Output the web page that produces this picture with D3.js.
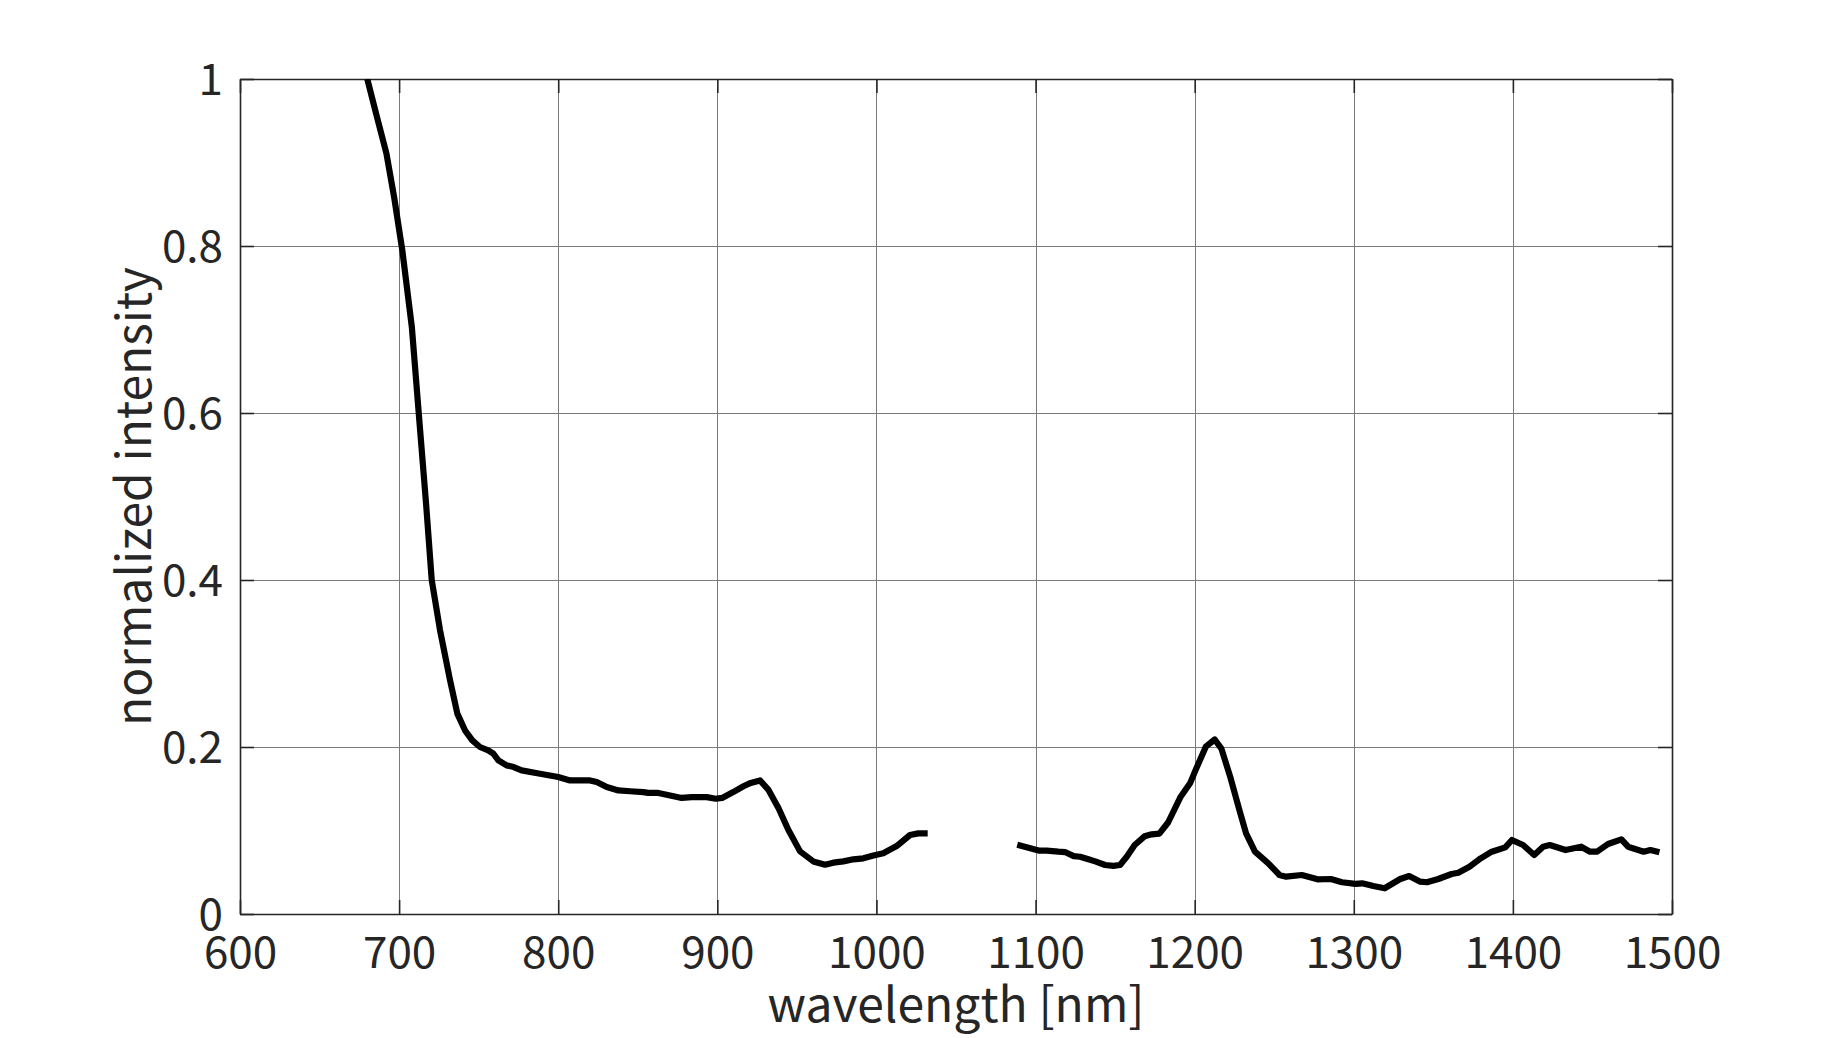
<!DOCTYPE html>
<html>
<head>
<meta charset="utf-8">
<script src="https://cdn.jsdelivr.net/npm/d3@7"></script>
<style>
  html, body { margin: 0; padding: 0; background: #ffffff; }
  svg { display: block; }
</style>
</head>
<body>
<svg id="chart" width="1846" height="1038"></svg>
<script>
// ---- data ----
const xTicks = [600, 700, 800, 900, 1000, 1100, 1200, 1300, 1400, 1500];
const yTicks = [0, 0.2, 0.4, 0.6, 0.8, 1];
const yTickLabels = ["0", "0.2", "0.4", "0.6", "0.8", "1"];

const seg1Wavelength = [680, 686, 692, 697, 702, 708, 713, 717, 720.5, 725.7, 732, 736.6, 741.4, 746, 750.8, 756, 759.2, 762.4, 767.6, 772, 777, 788.6, 800, 807.4, 820, 824.2, 830.5, 837.8, 845.1, 853.5, 856.6, 862.9, 870.3, 877.6, 883.9, 893.3, 899, 903, 910, 916.4, 921, 926.8, 932, 938.4, 944.6, 952, 960.3, 967.7, 972.9, 979.2, 985.5, 991.8, 998.1, 1004.3, 1012.7, 1021.1, 1026.3, 1032.2];
const seg1Intensity = [1.000, 0.955, 0.911, 0.857, 0.795, 0.703, 0.584, 0.490, 0.400, 0.340, 0.280, 0.240, 0.220, 0.208, 0.200, 0.196, 0.192, 0.184, 0.178, 0.176, 0.172, 0.168, 0.164, 0.160, 0.160, 0.158, 0.152, 0.148, 0.147, 0.146, 0.145, 0.145, 0.142, 0.139, 0.140, 0.140, 0.138, 0.139, 0.146, 0.153, 0.157, 0.160, 0.149, 0.127, 0.101, 0.075, 0.063, 0.059, 0.0615, 0.063, 0.0655, 0.0667, 0.070, 0.0727, 0.0814, 0.0946, 0.0966, 0.0966];

const seg2Wavelength = [1088.5, 1095.5, 1102.5, 1107, 1114.3, 1118.5, 1124, 1128, 1133.2, 1137.5, 1143.7, 1148.9, 1153.1, 1157.3, 1162.3, 1168.5, 1173, 1177.8, 1183.3, 1191.2, 1197.1, 1200.5, 1207, 1212.6, 1216.8, 1222.4, 1228.1, 1232.3, 1237.9, 1246.3, 1253.3, 1257.5, 1267.3, 1277.2, 1285.6, 1292.6, 1301.1, 1305.3, 1312.3, 1319.4, 1329.2, 1334.8, 1341.8, 1346, 1353.1, 1361.5, 1365.7, 1372.7, 1379.8, 1386.7, 1395.2, 1399.4, 1406.4, 1413.4, 1419, 1423.2, 1433.1, 1442.9, 1448.5, 1452.8, 1459.8, 1468.2, 1472.4, 1482.2, 1486.4, 1492.1];
const seg2Intensity = [0.0830, 0.0794, 0.0758, 0.0758, 0.0746, 0.0742, 0.0693, 0.0686, 0.0655, 0.0630, 0.0587, 0.0576, 0.0587, 0.0686, 0.0826, 0.0930, 0.0954, 0.0962, 0.1096, 0.1405, 0.1565, 0.1720, 0.2004, 0.2090, 0.1980, 0.1640, 0.1245, 0.0966, 0.0746, 0.0607, 0.0467, 0.0447, 0.0467, 0.0415, 0.0419, 0.0380, 0.0360, 0.0367, 0.0335, 0.0308, 0.0419, 0.0455, 0.0387, 0.0380, 0.0419, 0.0479, 0.0495, 0.0567, 0.0667, 0.0746, 0.0798, 0.0886, 0.0826, 0.0707, 0.0806, 0.0826, 0.0766, 0.0806, 0.0746, 0.0746, 0.0838, 0.0894, 0.0806, 0.0746, 0.0766, 0.0739];

const xLabel = "wavelength [nm]";
const yLabel = "normalized intensity";

// ---- layout ----
const plotLeft = 240, plotRight = 1672, plotTop = 79, plotBottom = 914;
const textColor = "#262626";
const tickFont = "'Noto Sans CJK JP', 'Noto Sans', sans-serif";

const svg = d3.select("#chart");
const x = d3.scaleLinear().domain([600, 1500]).range([plotLeft, plotRight]);
const y = d3.scaleLinear().domain([0, 1]).range([plotBottom, plotTop]);

// clip
svg.append("defs").append("clipPath").attr("id", "plotclip")
  .append("rect").attr("x", plotLeft).attr("y", plotTop)
  .attr("width", plotRight - plotLeft).attr("height", plotBottom - plotTop);

// grid
const grid = svg.append("g").attr("stroke", "#7a7a7a").attr("stroke-width", 1).attr("shape-rendering", "crispEdges");
grid.selectAll("line.gx").data(xTicks.slice(1, -1)).enter().append("line")
  .attr("x1", d => Math.round(x(d)) + 0.5).attr("x2", d => Math.round(x(d)) + 0.5)
  .attr("y1", plotTop).attr("y2", plotBottom);
grid.selectAll("line.gy").data(yTicks.slice(1, -1)).enter().append("line")
  .attr("y1", d => Math.round(y(d)) + 0.5).attr("y2", d => Math.round(y(d)) + 0.5)
  .attr("x1", plotLeft).attr("x2", plotRight);

// axes with D3
const tickLen = 14;
const xAxisB = d3.axisBottom(x).tickValues(xTicks).tickSizeInner(-tickLen).tickSizeOuter(0).tickPadding(23).tickFormat(d3.format("d"));
const xAxisT = d3.axisTop(x).tickValues(xTicks).tickSizeInner(-tickLen).tickSizeOuter(0).tickFormat("");
const yAxisL = d3.axisLeft(y).tickValues(yTicks).tickSizeInner(-tickLen).tickSizeOuter(0).tickPadding(17)
  .tickFormat((d, i) => yTickLabels[i]);
const yAxisR = d3.axisRight(y).tickValues(yTicks).tickSizeInner(-tickLen).tickSizeOuter(0).tickFormat("");

function styleAxis(g) {
  g.selectAll("path.domain").attr("stroke", textColor).attr("stroke-width", 1.6);
  g.selectAll(".tick line").attr("stroke", textColor).attr("stroke-width", 1.6);
  g.selectAll(".tick text").attr("fill", textColor).style("font-family", tickFont).style("font-size", "44px");
}
svg.append("g").attr("transform", `translate(0,${plotBottom})`).call(xAxisB).call(styleAxis)
  .selectAll(".tick text").attr("dy", "0.71em");
svg.append("g").attr("transform", `translate(0,${plotTop})`).call(xAxisT).call(styleAxis);
svg.append("g").attr("transform", `translate(${plotLeft},0)`).call(yAxisL).call(styleAxis)
  .selectAll(".tick text").attr("dy", "0.36em");
svg.append("g").attr("transform", `translate(${plotRight},0)`).call(yAxisR).call(styleAxis);

// lines
const line = d3.line().x(d => x(d[0])).y(d => y(d[1]));
const seg1 = seg1Wavelength.map((w, i) => [w, seg1Intensity[i]]);
const seg2 = seg2Wavelength.map((w, i) => [w, seg2Intensity[i]]);
const plot = svg.append("g").attr("clip-path", "url(#plotclip)");
[seg1, seg2].forEach(seg => {
  plot.append("path").datum(seg).attr("d", line)
    .attr("fill", "none").attr("stroke", "#000").attr("stroke-width", 6.2)
    .attr("stroke-linejoin", "round").attr("stroke-linecap", "butt");
});

// labels
svg.append("text").attr("x", (plotLeft + plotRight) / 2).attr("y", 1022)
  .attr("text-anchor", "middle").attr("fill", textColor)
  .style("font-family", tickFont).style("font-size", "48px").text(xLabel);
svg.append("text").attr("transform", `translate(151,${(plotTop + plotBottom) / 2}) rotate(-90)`)
  .attr("text-anchor", "middle").attr("fill", textColor)
  .style("font-family", tickFont).style("font-size", "48px").text(yLabel);
</script>
</body>
</html>
